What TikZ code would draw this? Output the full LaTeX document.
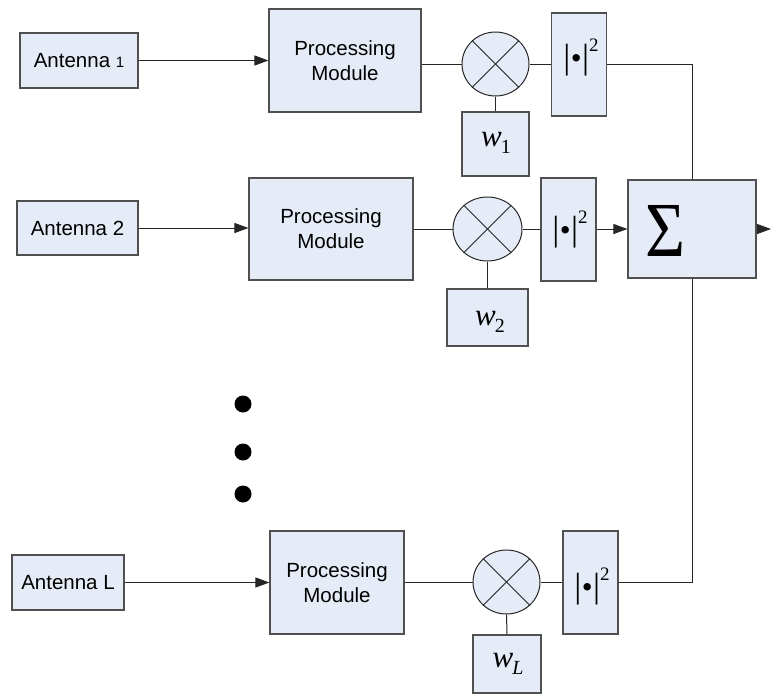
\documentclass[tikz,border=0pt]{standalone}
\usepackage{fontspec}
\setmainfont{Liberation Sans}
\newfontfamily\serifA{Liberation Serif}
\usetikzlibrary{arrows.meta,shapes.geometric}
\definecolor{boxfill}{HTML}{E6ECF7}
\definecolor{boxline}{HTML}{505050}
\definecolor{wire}{HTML}{262626}
\newcommand{\absq}{{\serifA\fontsize{35}{35}\selectfont |\kern0.5pt{\fontsize{31}{31}\selectfont •}\kern0.5pt|\raisebox{17pt}{\fontsize{19}{19}\selectfont 2}}}
\newcommand{\wsym}[2]{{\serifA\fontsize{31}{31}\selectfont\itshape w\kern-1pt\raisebox{-7pt}{\fontsize{20}{20}\selectfont #1#2}}}
\begin{document}
\begin{tikzpicture}[x=1pt,y=-1pt,
  blk/.style={draw=boxline, fill=boxfill, line width=1.1pt, inner sep=0pt, align=center,
              font=\fontsize{20.5}{25}\selectfont},
  mixer/.style={ellipse, draw=wire, fill=boxfill, line width=1pt, inner sep=0pt},
  sqbox/.style={blk, minimum width=55pt, minimum height=103pt},
  txt/.style={inner sep=0pt},
  wireln/.style={draw=wire, line width=1pt},
  arr/.style={wireln, -{Triangle[length=14pt,width=10pt]}},
  dotmark/.style={circle, fill=black, inner sep=0pt, minimum size=17pt}
]
\useasboundingbox (0,0) rectangle (771,694);

% antennas
\node[blk, minimum width=118pt, minimum height=55pt] (ant1) at (79,60.5) {Antenna {\fontsize{15}{18}\selectfont 1}};
\node[blk, minimum width=121pt, minimum height=54pt] (ant2) at (77.5,228) {Antenna 2};
\node[blk, minimum width=112pt, minimum height=55pt] (antL) at (68,582.5) {Antenna L};

% processing modules
\node[blk, minimum width=152pt, minimum height=103pt] (pm1) at (345,60.5) {Processing\\Module};
\node[blk, minimum width=164pt, minimum height=102pt] (pm2) at (331,229) {Processing\\Module};
\node[blk, minimum width=134pt, minimum height=103pt] (pmL) at (337,582.5) {Processing\\Module};

% mixers
\node[mixer, minimum width=67pt, minimum height=64pt] (m1) at (495.5,64) {};
\node[mixer, minimum width=69pt, minimum height=64pt] (m2) at (487.5,229) {};
\node[mixer, minimum width=67pt, minimum height=64pt] (mL) at (506.5,582) {};
\foreach \m in {m1,m2,mL}{
  \draw[wireln] (\m.45) -- (\m.225);
  \draw[wireln] (\m.135) -- (\m.315);
}

% weights
\node[blk, minimum width=67pt, minimum height=64pt] (w1) at (495.5,144) {};
\node[blk, minimum width=81pt, minimum height=57pt] (w2) at (487.5,317.5) {};
\node[blk, minimum width=68pt, minimum height=58pt] (wL) at (507,664) {};
\node[txt] (w1t) at (496,143) {\wsym{\upshape 1}{}};
\node[txt] (w2t) at (490,322) {\wsym{\upshape 2}{}};
\node[txt] (wLt) at (508,664) {\wsym{L}{}};

% squaring boxes
\node[sqbox] (sq1) at (579,64.5) {};
\node[sqbox] (sq2) at (568.5,229.5) {};
\node[sqbox] (sqL) at (590.5,582.5) {};
\node[txt] (sq1t) at (581,57) {\absq};
\node[txt] (sq2t) at (570,229) {\absq};
\node[txt] (sqLt) at (592,586) {\absq};

% summation
\node[blk, minimum width=128pt, minimum height=98pt] (sum) at (692,229) {};
\node[txt] (sigma) at (665,231) {\resizebox{40pt}{51pt}{\serifA Σ}};
\coordinate (out) at (771,229);

% dots
\node[dotmark] (d1) at (243,404) {};
\node[dotmark] (d2) at (243,452) {};
\node[dotmark] (d3) at (243,494) {};

% connectors
\draw[arr] (ant1.east) -- (ant1.east -| pm1.west);
\draw[arr] (ant2.east) -- (ant2.east -| pm2.west);
\draw[arr] (antL.east) -- (antL.east -| pmL.west);

\draw[wireln] (pm1.east |- m1.west) -- (m1.west);
\draw[wireln] (pm2.east |- m2.west) -- (m2.west);
\draw[wireln] (pmL.east |- mL.west) -- (mL.west);

\draw[wireln] (m1.east) -- (m1.east -| sq1.west);
\draw[wireln] (m2.east) -- (m2.east -| sq2.west);
\draw[wireln] (mL.east) -- (mL.east -| sqL.west);

\draw[wireln] (m1.south) -- (w1.north);
\draw[wireln] (m2.south) -- (w2.north);
\draw[wireln] (mL.south) -- (wL.north);

\draw[wireln] (sq1.east |- m1) -| (sum.north);
\draw[arr] (sq2.east |- sum.west) -- (sum.west);
\draw[wireln] (sqL.east |- mL) -| (sum.south);
\draw[arr] (sum.east) -- (out);
\end{tikzpicture}
\end{document}
